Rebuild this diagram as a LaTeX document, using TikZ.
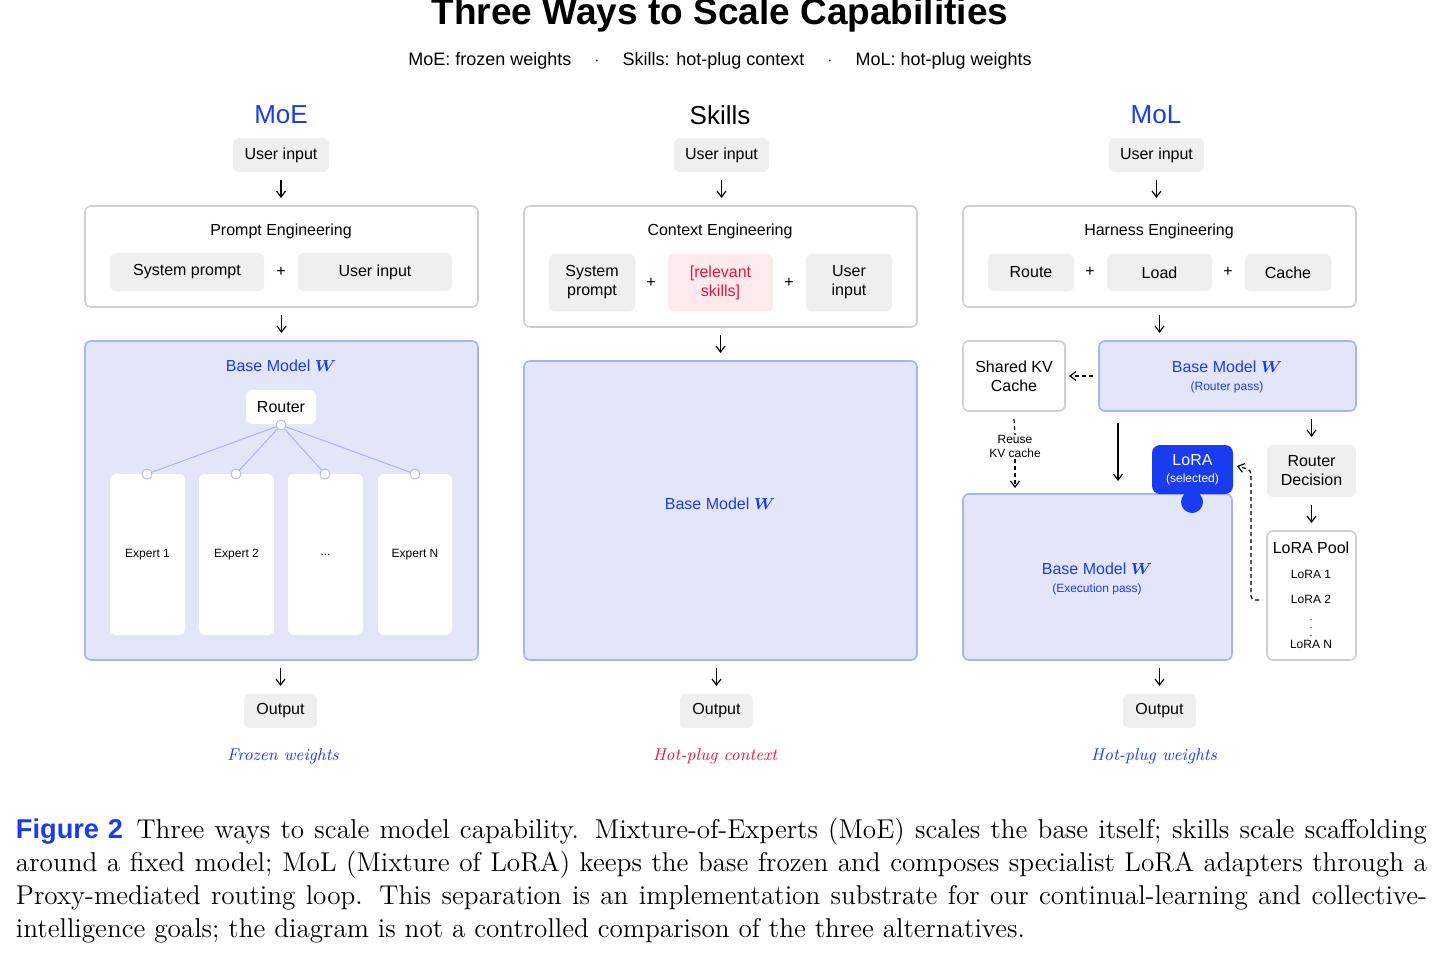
\documentclass[tikz,border=0pt]{standalone}
\usepackage{fontspec}
\usepackage{amsmath,bm}
\setsansfont{Liberation Sans}
\usetikzlibrary{arrows.meta}
\definecolor{mblue}{HTML}{1A3CF0}
\definecolor{mred}{HTML}{E8173A}
\definecolor{bfill}{HTML}{E3E6F8}
\definecolor{bline}{HTML}{A8B3F2}
\definecolor{pill}{HTML}{EFEFEF}
\definecolor{gline}{HTML}{CFCFCF}
\newcommand\bx[7]{\node[#6, minimum width={(#4-#2)*0.5pt}, minimum height={(#5-#3)*0.5pt}] (#1) at ({(#2+#4)/2},{(#3+#5)/2}) {#7};}
\newcommand\BW{Base Model $\bm{W}$}
\begin{document}
\begin{tikzpicture}[x=0.5pt,y=-0.5pt,
  every node/.style={inner sep=0pt,outer sep=0pt,font=\sffamily\fontsize{8}{9.5}\selectfont,align=center},
  pillb/.style={fill=pill,rounded corners=3pt},
  frame/.style={draw=gline,fill=white,line width=0.8pt,rounded corners=3pt},
  base/.style={draw=bline,fill=bfill,line width=0.8pt,rounded corners=3pt},
  card/.style={fill=white,rounded corners=3pt},
  arr/.style={-{Straight Barb[length=3pt,width=4.5pt]},line width=0.6pt,shorten <=4pt,shorten >=4pt},
  darr/.style={arr,dash pattern=on 2pt off 1.5pt},
  hdr/.style={font=\sffamily\fontsize{13}{15}\selectfont},
  ital/.style={font=\rmfamily\itshape\fontsize{8.5}{9}\selectfont},
  small/.style={font=\sffamily\fontsize{6}{7}\selectfont},
  rl/.style={draw=bline,line width=0.5pt},
  dot/.style={circle,fill=white,draw=bline,line width=0.4pt,minimum size=5pt}]
\useasboundingbox (0,0) rectangle (1447,964);
\node[anchor=base,font=\sffamily\bfseries\fontsize{18.5}{20}\selectfont] (title) at (720,24) {Three Ways to Scale Capabilities};
\node[anchor=base,font=\sffamily\fontsize{9}{10}\selectfont] (sub) at (720,65) {MoE: frozen weights\quad\ $\cdot$\quad\ Skills: hot-plug context\quad\ $\cdot$\quad\ MoL: hot-plug weights};

% ---------- MoE
\node[hdr,text=mblue] (h1) at (281,115) {MoE};
\bx{u1}{233}{138}{329}{172}{pillb}{User input}
\bx{pe}{85}{206}{478}{307}{frame}{}
\node at (281,231) {Prompt Engineering};
\bx{sp1}{110}{253}{264}{291}{pillb}{System prompt}
\node at (281,272) {+};
\bx{ui1}{298}{253}{452}{291}{pillb}{User input}
\bx{b1}{85}{341}{478}{660}{base}{}
\node[text=mblue] at (281,366) {\BW};
\bx{rt}{246}{390}{316}{424}{card}{Router}
\bx{e1}{110}{474}{185}{635}{card}{\fontsize{6}{7}\selectfont Expert 1}
\bx{e2}{199}{474}{274}{635}{card}{\fontsize{6}{7}\selectfont Expert 2}
\bx{e3}{288}{474}{363}{635}{card}{\fontsize{6}{7}\selectfont ...}
\bx{e4}{378}{474}{452}{635}{card}{\fontsize{6}{7}\selectfont Expert N}
\coordinate (rd) at (281,425);
\foreach \e/\x in {e1/147,e2/236,e3/325,e4/415}{
  \coordinate (\e d) at (\x,474);
  \draw[rl] (rd) -- (\e d);
  \node[dot] at (\e d) {};}
\node[dot] at (rd) {};
\bx{o1}{244}{694}{317}{728}{pillb}{Output}
\node[ital,text=mblue] (l1) at (283,756) {Frozen weights};
\draw[arr] (u1.south) -- (u1.south |- pe.north);
\draw[arr] (pe.south) -- (pe.south |- b1.north);
\draw[arr] (o1.north |- b1.south) -- (o1.north);

% ---------- Skills
\node[hdr] (h2) at (720,115) {Skills};
\bx{u2}{674}{138}{769}{172}{pillb}{User input}
\bx{ce}{524}{206}{917}{327}{frame}{}
\node at (720,231) {Context Engineering};
\bx{sp2}{549}{254}{635}{311}{pillb}{System\\prompt}
\node at (651,283) {+};
\bx{rs}{668}{254}{773}{311}{fill=mred!9,rounded corners=3pt,text=mred}{[relevant\\skills]}
\node at (789,283) {+};
\bx{ui2}{806}{254}{892}{311}{pillb}{User\\input}
\bx{b2}{524}{361}{917}{660}{base}{}
\node[text=mblue] at (720,504) {\BW};
\bx{o2}{680}{694}{753}{728}{pillb}{Output}
\node[ital,text=mred] (l2) at (715,756) {Hot-plug context};
\draw[arr] (u2.south) -- (u2.south |- ce.north);
\draw[arr] (ce.south) -- (ce.south |- b2.north);
\draw[arr] (o2.north |- b2.south) -- (o2.north);

% ---------- MoL
\node[hdr,text=mblue] (h3) at (1156,115) {MoL};
\bx{u3}{1109}{138}{1204}{172}{pillb}{User input}
\bx{he}{963}{206}{1356}{307}{frame}{}
\node at (1159,231) {Harness Engineering};
\bx{ro}{988}{254}{1074}{291}{pillb}{Route}
\node at (1090,272) {+};
\bx{lo}{1107}{254}{1212}{291}{pillb}{Load}
\node at (1228,272) {+};
\bx{ca}{1245}{254}{1331}{291}{pillb}{Cache}
\bx{kv}{963}{341}{1065}{411}{frame}{Shared KV\\Cache}
\bx{br}{1099}{341}{1356}{411}{base}{}
\node[text=mblue] at (1227,367) {\BW};
\node[small,text=mblue] at (1227,387) {(Router pass)};
\bx{rdn}{1267}{445}{1356}{497}{pillb}{Router\\Decision}
\bx{lp}{1267}{531}{1356}{660}{frame}{}
\node at (1311,548) {LoRA Pool};
\node[small] at (1311,574) {LoRA 1};
\node[small] at (1311,599) {LoRA 2};
\node[small] at (1311,622) {\fontsize{5}{5}\selectfont$\vdots$};
\node[small] at (1311,644) {LoRA N};
\bx{bx}{963}{494}{1232}{660}{base}{}
\node[text=mblue] at (1097,569) {\BW};
\node[small,text=mblue] at (1097,589) {(Execution pass)};
\fill[mblue] (1192,502) circle (5.5pt);
\bx{ls}{1152}{445}{1233}{494}{fill=mblue,rounded corners=4pt,text=white}{LoRA\\[-1pt]{\fontsize{6}{7}\selectfont(selected)}}
\bx{o3}{1123}{694}{1196}{728}{pillb}{Output}
\node[ital,text=mblue] (l3) at (1154,756) {Hot-plug weights};
\draw[arr] (u3.south) -- (u3.south |- he.north);
\draw[arr] (he.south) -- (he.south |- br.north);
\draw[darr,shorten <=3pt,shorten >=2pt] (br.west) -- (kv.east);
\node[small] (reuse) at (1015,446) {Reuse\\KV cache};
\draw[dash pattern=on 2pt off 1.5pt,line width=0.6pt] (kv.south) ++(0,8) -- (reuse.north);
\draw[darr,shorten <=1pt,shorten >=3pt] (reuse.south) -- (reuse.south |- bx.north);
\draw[arr,shorten <=4pt,shorten >=3pt] (br.south -| 1118,0) ++(0,4) -- (1118,487);
\draw[arr] (rdn.north |- br.south) -- (rdn.north);
\draw[arr] (rdn.south) -- (lp.north);
\draw[darr,rounded corners=2pt,shorten <=4pt,shorten >=2pt] (lp.west |- 0,600) -- (1251,600) -- (1251,470) -- (ls.east |- 0,465);
\draw[arr] (o3.north |- bx.south) -- (o3.north);

% ---------- caption
\node[anchor=north west,align=justify,text width=705.5pt,font=\rmfamily\fontsize{13.6}{16.5}\selectfont] (cap) at (16,818)
{{\sffamily\bfseries\color{mblue}Figure 2}\enspace Three ways to scale model capability. Mixture-of-Experts (MoE) scales the base itself; skills scale scaffolding around a fixed model; MoL (Mixture of LoRA) keeps the base frozen and composes specialist LoRA adapters through a Proxy-mediated routing loop. This separation is an implementation substrate for our continual-learning and collective-intelligence goals; the diagram is not a controlled comparison of the three alternatives.};
\end{tikzpicture}
\end{document}
